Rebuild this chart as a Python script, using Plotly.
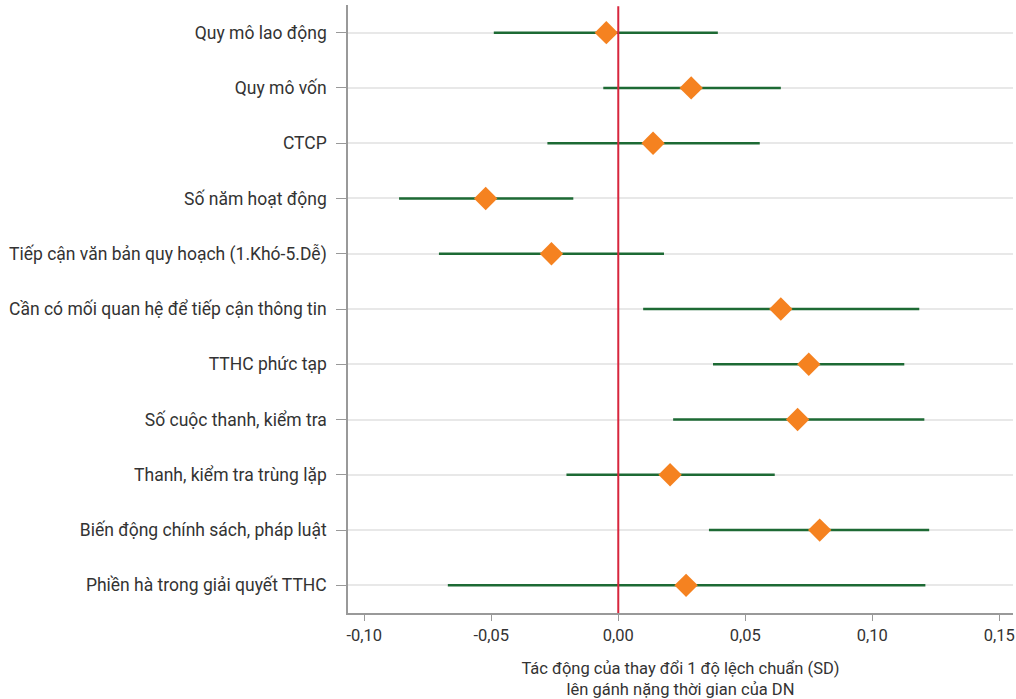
import plotly.graph_objects as go

categories = [
    "Quy mô lao động",
    "Quy mô vốn",
    "CTCP",
    "Số năm hoạt động",
    "Tiếp cận văn bản quy hoạch (1.Khó-5.Dễ)",
    "Cần có mối quan hệ để tiếp cận thông tin",
    "TTHC phức tạp",
    "Số cuộc thanh, kiểm tra",
    "Thanh, kiểm tra trùng lặp",
    "Biến động chính sách, pháp luật",
    "Phiền hà trong giải quyết TTHC",
]
estimates = [-0.0047, 0.0287, 0.0137, -0.0522, -0.0263, 0.0640, 0.0750, 0.0706, 0.0204, 0.0793, 0.0267]
ci_low = [-0.0490, -0.0059, -0.0279, -0.0863, -0.0706, 0.0098, 0.0373, 0.0216, -0.0204, 0.0357, -0.0671]
ci_high = [0.0392, 0.0640, 0.0557, -0.0177, 0.0180, 0.1185, 0.1126, 0.1205, 0.0616, 0.1224, 0.1209]

tick_vals = [-0.10, -0.05, 0.00, 0.05, 0.10, 0.15]
tick_text = ["-0,10", "-0,05", "0,00", "0,05", "0,10", "0,15"]
x_title = "Tác động của thay đổi 1 độ lệch chuẩn (SD)<br>lên gánh nặng thời gian của DN"

GREEN = "#1d6a34"
ORANGE = "#f58220"
RED = "#d7263d"
FONT = "Roboto"
TEXT = "#333333"

fig = go.Figure()

# CI lines
xs, ys = [], []
for c, lo, hi in zip(categories, ci_low, ci_high):
    xs += [lo, hi, None]
    ys += [c, c, None]
fig.add_trace(go.Scatter(x=xs, y=ys, mode="lines", line=dict(color=GREEN, width=2.5),
                         hoverinfo="skip", showlegend=False))

# point estimates
fig.add_trace(go.Scatter(x=estimates, y=categories, mode="markers",
                         marker=dict(symbol="diamond", size=18, color=ORANGE),
                         showlegend=False))

fig.add_shape(type="line", xref="x", yref="paper", x0=0, x1=0, y0=0, y1=0.998,
              line=dict(color=RED, width=2))

fig.update_layout(
    width=1016, height=699,
    margin=dict(l=348, r=1, t=5, b=86),
    paper_bgcolor="white", plot_bgcolor="white",
    font=dict(family=FONT, size=16, color=TEXT),
)
fig.update_xaxes(
    range=[-0.1064, 0.1554],
    tickvals=tick_vals, ticktext=tick_text,
    ticks="outside", ticklen=6, tickcolor="#999999",
    ticklabeloverflow="allow",
    showline=True, linecolor="#999999", linewidth=1.5,
    showgrid=False, zeroline=False,
    title=dict(text=x_title, font=dict(size=16.5, color=TEXT), standoff=19),
    tickfont=dict(size=16.5, color=TEXT),
)
fig.update_yaxes(
    categoryorder="array", categoryarray=categories,
    range=[10.5, -0.5],
    ticks="outside", ticklen=10, tickcolor="#999999",
    ticklabelstandoff=6,
    showline=True, linecolor="#999999", linewidth=1.5,
    showgrid=True, gridcolor="#e8e8e8", gridwidth=2,
    zeroline=False,
    tickfont=dict(size=17.5, color=TEXT),
)

fig.write_html("out.html", config={"displayModeBar": False},
               post_script="document.body.style.margin='0';")
